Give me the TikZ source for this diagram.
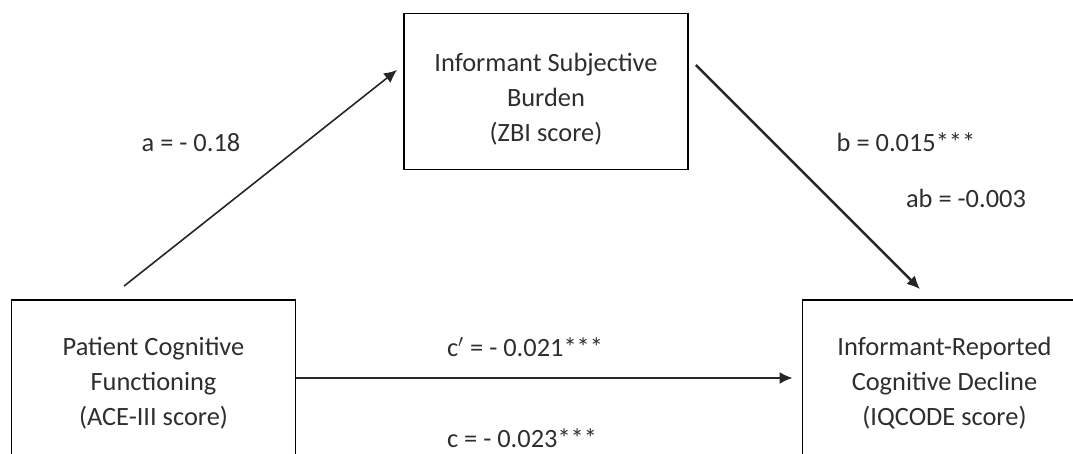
\documentclass[tikz,border=0pt]{standalone}
\usepackage{fontspec}
\setmainfont{Carlito}
\usepackage{tikz}
\usetikzlibrary{arrows.meta,calc,positioning}
\tikzset{
  box/.style  = {draw, line width=0.9pt, text=black!82, align=center,
                 minimum width=142pt, minimum height=78pt,
                 font=\fontsize{13.2}{17.5}\selectfont},
  vec/.style  = {-{Latex[length=6.5pt,width=6pt]}, black!85},
  lbl/.style  = {text=black!82, font=\fontsize{13.2}{17.5}\selectfont},
}

\begin{document}
\begin{tikzpicture}[x=0.5pt,y=-0.5pt]
  \useasboundingbox (0,0) rectangle (1073,454);
  \clip (0,0) rectangle (1073,454);
  % the three variables
  \node[box, text height=49.6pt] (pcf) at (153.5,378) {Patient Cognitive\\Functioning\\(ACE-III score)};
  \node[box, text height=51.6pt] (isb) at (546,91.5) {Informant Subjective\\Burden\\(ZBI score)};
  \node[box, text height=49.6pt] (ird) at (944.5,378) {Informant-Reported\\Cognitive Decline\\(IQCODE score)};
  % paths
  \draw[vec, line width=0.8pt] ($(pcf.north)+(-29.5,-13)$) -- ($(isb.west)+(-6,-21.5)$);
  \draw[vec, line width=1.2pt] ($(isb.east)+(7,-26.5)$) -- ($(ird.north)+(-24.5,-10)$);
  \draw[vec, line width=1pt, shorten >=4.5pt] (pcf.east) -- (ird.west);
  % coefficients
  \node[lbl] (a)  at (191,143) {a = - 0.18};
  \node[lbl] (b)  at (906,142) {b = 0.015***};
  \node[lbl] (ab) at (966,198) {ab = -0.003};
  \node[lbl] (cp) at (525,347) {c$'$ = - 0.021***};
  \node[lbl] (c)  at (522,438) {c = - 0.023***};
\end{tikzpicture}
\end{document}
